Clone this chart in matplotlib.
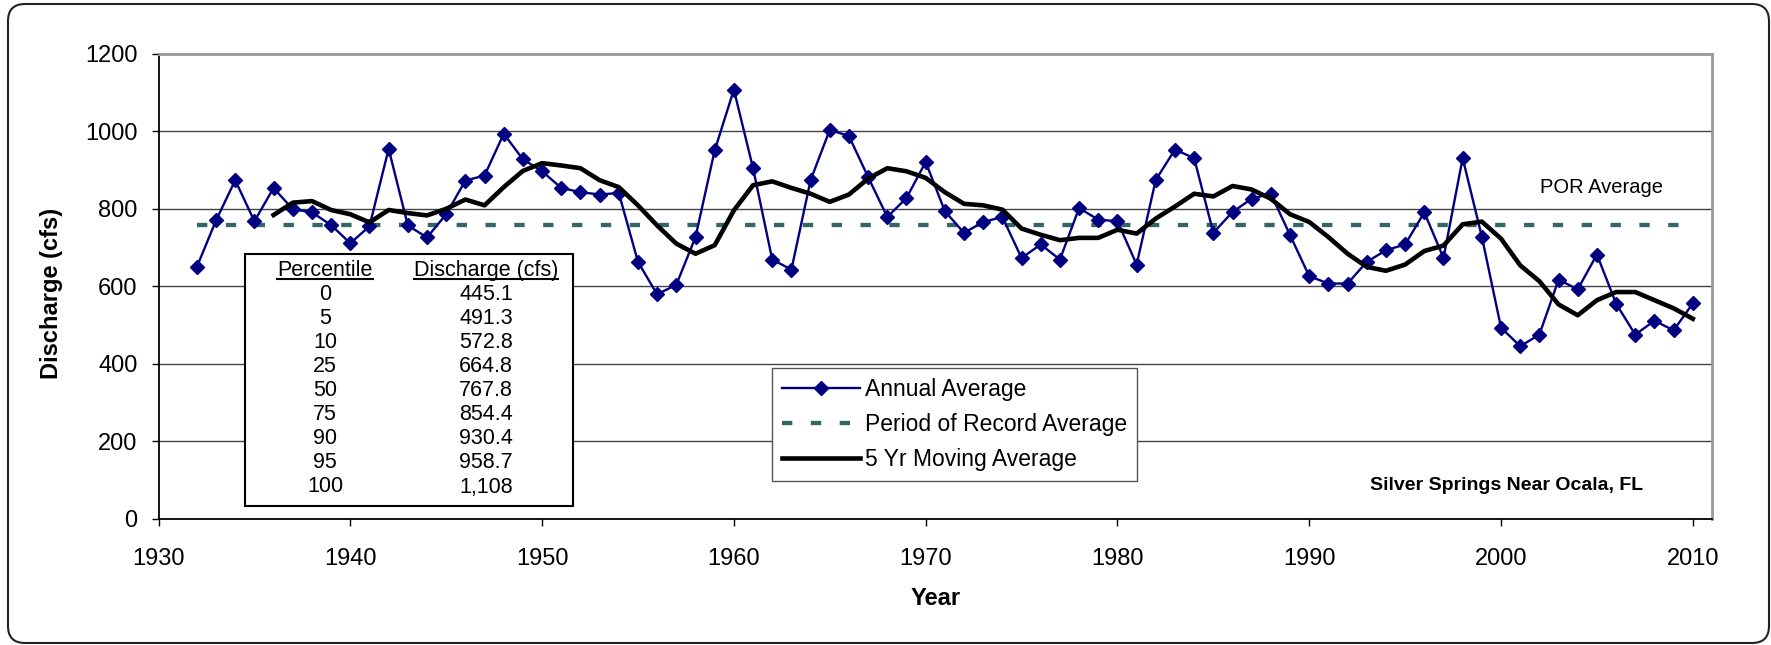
import matplotlib
matplotlib.use('Agg')
import matplotlib.pyplot as plt
from matplotlib.patches import FancyBboxPatch, Rectangle
from matplotlib.lines import Line2D
from matplotlib.transforms import IdentityTransform

plt.rcParams['font.family'] = ['Liberation Sans', 'DejaVu Sans']

# annual average discharge (cfs), 1932-2010
years = list(range(1932, 2011))
annual = [650, 770, 874, 768, 854, 799, 791, 758, 711, 755,
          955, 757, 726, 786, 873, 886, 994, 928, 897, 854,
          843, 837, 841, 663, 579, 604, 727, 951, 1108, 905,
          669, 643, 874, 1004, 988, 882, 779, 828, 921, 794,
          738, 766, 779, 673, 708, 669, 802, 772, 768, 656,
          875, 953, 931, 738, 792, 826, 839, 732, 626, 607,
          607, 663, 693, 708, 791, 673, 931, 728, 493, 445,
          475, 617, 592, 682, 555, 475, 511, 486, 556]

# 5 yr moving average, 1936-2010
ma_years = list(range(1936, 2011))
moving = [784, 816, 820, 797, 786, 765, 797, 789, 783, 800,
          824, 809, 856, 898, 918, 912, 905, 874, 856, 809,
          757, 710, 684, 706, 796, 861, 871, 854, 839, 818,
          837, 878, 905, 897, 880, 843, 813, 809, 798, 749,
          733, 719, 725, 725, 746, 736, 775, 806, 839, 832,
          859, 850, 826, 786, 766, 727, 684, 650, 640, 656,
          691, 705, 760, 767, 723, 654, 613, 553, 525, 564,
          585, 585, 564, 543, 516]

por_avg = 757

pct = ['0', '5', '10', '25', '50', '75', '90', '95', '100']
pct_q = ['445.1', '491.3', '572.8', '664.8', '767.8', '854.4', '930.4', '958.7', '1,108']

W, H = 1771, 645
fig = plt.figure(figsize=(W / 100, H / 100), dpi=100)

def fx(px):
    return px / W

def fy(py):
    return 1 - py / H

# outer rounded frame
frame = FancyBboxPatch((8, 2), 1761, 639, boxstyle="round,pad=0,rounding_size=17",
                       transform=IdentityTransform(), facecolor='white',
                       edgecolor='#222222', lw=1.5, zorder=-5)
fig.patches.append(frame)

ax = fig.add_axes([fx(158.5), fy(518.5), fx(1712) - fx(158.5), fy(54) - fy(518.5)])
ax.set_facecolor('none')

ax.plot(years, annual, color='#000080', lw=1.7, marker='D', ms=7.5,
        mec='#000080', mfc='#000080', label='Annual Average', zorder=4)
ax.plot([years[0], years[-1]], [por_avg, por_avg], color='#336666', lw=3.1,
        dashes=(2.4, 4.3), solid_capstyle='butt', dash_capstyle='butt',
        label='Period of Record Average', zorder=3)
ax.plot(ma_years, moving, color='black', lw=3.3, label='5 Yr Moving Average', zorder=5)

ax.set_xlim(1930, 2011)
ax.set_ylim(0, 1200)
ax.set_xticks(range(1930, 2011, 10))
ax.set_yticks(range(0, 1201, 200))
for v in range(200, 1200, 200):
    ax.axhline(v, color='#444444', lw=1, zorder=1)

ax.tick_params(direction='out', length=5, width=1, labelsize=17)
ax.tick_params(axis='x', pad=16)
ax.tick_params(axis='y', pad=10)
for s in ['left', 'bottom']:
    ax.spines[s].set_color('black')
    ax.spines[s].set_linewidth(1.3)
for s in ['top', 'right']:
    ax.spines[s].set_color('#999999')
    ax.spines[s].set_linewidth(2)

ax.set_xlabel('Year', fontsize=17, fontweight='bold', va='center')
ax.xaxis.set_label_coords(0.5, -0.172)
ax.set_ylabel('Discharge (cfs)', fontsize=17, fontweight='bold', va='center', ha='center')
ax.yaxis.set_label_coords(-0.069, 0.485)

leg = ax.legend(loc='upper left', bbox_to_anchor=(fx(772), fy(368)),
                bbox_transform=fig.transFigure, fontsize=16.5, numpoints=1,
                handlelength=3.4, handletextpad=0.2, labelspacing=0.52,
                borderpad=0.45, borderaxespad=0, fancybox=False, framealpha=1)
leg.get_frame().set_edgecolor('#555555')
leg.get_frame().set_linewidth(1)

fig.text(fx(1601), fy(188), 'POR Average', fontsize=14.5, ha='center', va='center')
fig.text(fx(1507), fy(485), 'Silver Springs Near Ocala, FL', fontsize=14,
         fontweight='bold', ha='center', va='center')

# percentile table
tbl = Rectangle((fx(245), fy(506)), fx(573) - fx(245), fy(254) - fy(506),
                transform=fig.transFigure, facecolor='white', edgecolor='black', lw=1.5, zorder=6)
fig.patches.append(tbl)
h1 = fig.text(fx(325), fy(270), 'Percentile', fontsize=15.5, ha='center', va='center', zorder=7)
h2 = fig.text(fx(486), fy(270), 'Discharge (cfs)', fontsize=15.5, ha='center', va='center', zorder=7)
for i, (p, q) in enumerate(zip(pct, pct_q)):
    yy = 295 + 24 * i
    fig.text(fx(325), fy(yy), p, fontsize=15.5, ha='center', va='center', zorder=7)
    fig.text(fx(486), fy(yy), q, fontsize=15.5, ha='center', va='center', zorder=7)

fig.canvas.draw()
for t in (h1, h2):
    bb = t.get_window_extent()
    fig.lines.append(Line2D([bb.x0, bb.x1], [bb.y0 + 2, bb.y0 + 2], transform=IdentityTransform(),
                            color='black', lw=1.5, zorder=7))

fig.savefig('out.png', dpi=100)
